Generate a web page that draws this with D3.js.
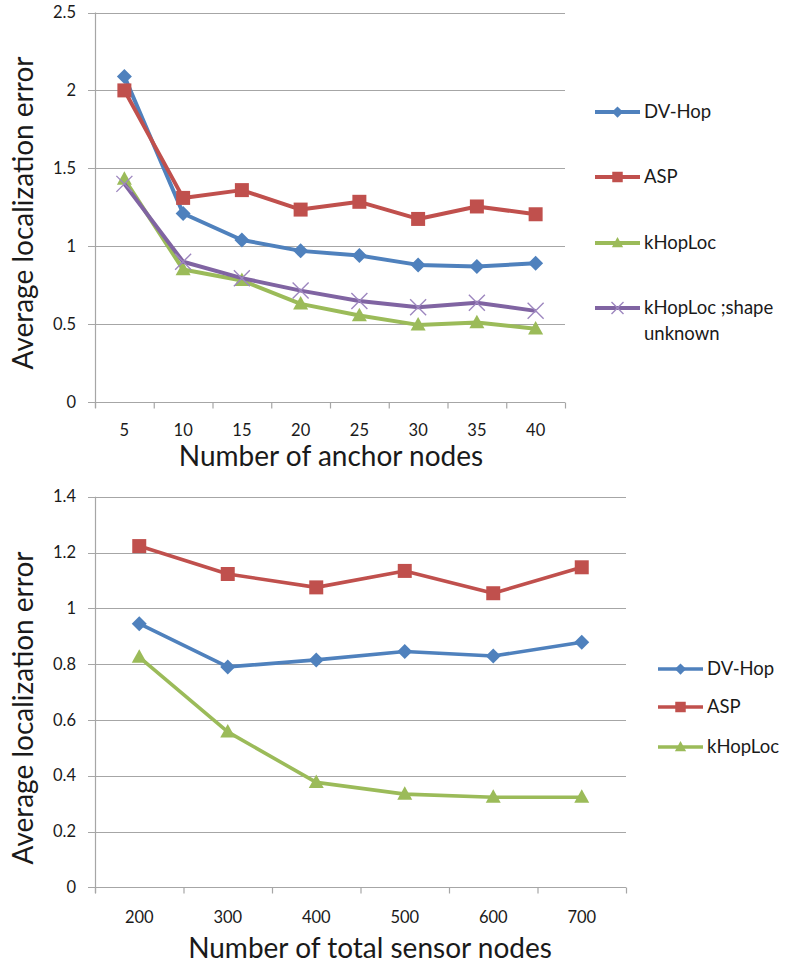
<!DOCTYPE html>
<html>
<head>
<meta charset="utf-8">
<script src="https://cdn.jsdelivr.net/npm/d3@7/dist/d3.min.js"></script>
<style>
  html, body { margin: 0; padding: 0; background: #fff; }
  svg { display: block; }
  text { font-family: Lato, "Open Sans", sans-serif; fill: #1a1a1a; }
</style>
</head>
<body>
<svg id="chart" width="794" height="967"></svg>
<script>
// Top panel: error versus number of anchor nodes
const anchorCounts = ["5", "10", "15", "20", "25", "30", "35", "40"];
const anchorDvHop  = [2.09, 1.21, 1.04, 0.97, 0.94, 0.88, 0.87, 0.89];
const anchorAsp    = [2.00, 1.31, 1.36, 1.235, 1.285, 1.175, 1.255, 1.205];
const anchorKHop   = [1.43, 0.85, 0.78, 0.63, 0.555, 0.495, 0.51, 0.47];
const anchorKHopUnknown = [1.40, 0.90, 0.795, 0.715, 0.648, 0.608, 0.637, 0.585];
const anchorYTicks = [0, 0.5, 1, 1.5, 2, 2.5];

// Bottom panel: error versus total number of sensor nodes
const sensorCounts = ["200", "300", "400", "500", "600", "700"];
const sensorDvHop  = [0.945, 0.79, 0.815, 0.845, 0.829, 0.878];
const sensorAsp    = [1.223, 1.123, 1.075, 1.134, 1.054, 1.147];
const sensorKHop   = [0.825, 0.557, 0.376, 0.334, 0.323, 0.323];
const sensorYTicks = [0, 0.2, 0.4, 0.6, 0.8, 1, 1.2, 1.4];

const COLORS = { dv: "#4F81BD", asp: "#C0504D", khop: "#9BBB59", unk: "#8064A2" };

const svg = d3.select("#chart");

function markerPath(type, size) {
  const s = size / 2;
  if (type === "diamond") return `M0,${-s}L${s},0L0,${s}L${-s},0Z`;
  if (type === "square") return `M${-s},${-s}H${s}V${s}H${-s}Z`;
  if (type === "triangle") return `M0,${-s * 1.05}L${s},${s * 0.75}L${-s},${s * 0.75}Z`;
  if (type === "cross") return `M${-s},${-s}L${s},${s}M${s},${-s}L${-s},${s}`;
  return "";
}

function drawMarker(g, type, color, size) {
  const p = g.append("path").attr("d", markerPath(type, size));
  if (type === "cross") {
    p.attr("fill", "none").attr("stroke", "#9d86bf").attr("stroke-width", 1.4);
  } else {
    p.attr("fill", color).attr("stroke", "none");
  }
  return p;
}

function panel(cfg) {
  const g = svg.append("g");
  const x = d3.scaleBand().domain(cfg.categories).range([cfg.left, cfg.right]).padding(0);
  const xEdge = d3.scaleLinear().domain([0, cfg.categories.length]).range([cfg.left, cfg.right]);
  const y = d3.scaleLinear().domain([0, cfg.yMax]).range([cfg.bottom, cfg.top]);

  // value labels on the left
  const yAxis = d3.axisLeft(y).tickValues(cfg.yTicks).tickSize(0).tickPadding(19)
    .tickFormat(d => String(+d.toFixed(2)));
  const yg = g.append("g").attr("transform", `translate(${cfg.left},0)`).call(yAxis);
  yg.select(".domain").remove();
  yg.selectAll("text").style("font-size", cfg.tickFont + "px").attr("fill", "#1a1a1a");
  // horizontal gridlines with outward ticks
  g.append("g").selectAll("line").data(cfg.yTicks).join("line")
    .attr("x1", cfg.left - 7).attr("x2", cfg.right)
    .attr("y1", d => Math.round(y(d)) + 0.5).attr("y2", d => Math.round(y(d)) + 0.5)
    .attr("stroke", "#a6a6a6").attr("stroke-width", 1.2);
  // vertical axis line
  g.append("line").attr("x1", cfg.left + 0.5).attr("x2", cfg.left + 0.5)
    .attr("y1", cfg.top).attr("y2", cfg.bottom + 6)
    .attr("stroke", "#a6a6a6").attr("stroke-width", 1.2);

  // category-boundary ticks
  const xTickAxis = d3.axisBottom(xEdge).tickValues(d3.range(cfg.categories.length + 1))
    .tickSize(6).tickFormat("");
  const xt = g.append("g").attr("transform", `translate(0,${Math.round(cfg.bottom) + 0.5})`).call(xTickAxis);
  xt.select(".domain").remove();
  xt.selectAll("line").attr("stroke", "#a6a6a6").attr("stroke-width", 1.2);

  // category labels
  const xAxis = d3.axisBottom(x).tickSize(0).tickPadding(cfg.xLabelPad);
  const xg = g.append("g").attr("transform", `translate(0,${cfg.bottom})`).call(xAxis);
  xg.select(".domain").remove();
  xg.selectAll("text").style("font-size", cfg.tickFont + "px").attr("fill", "#1a1a1a");

  // axis titles
  g.append("text").attr("x", cfg.xTitleX).attr("y", cfg.xTitleY)
    .attr("text-anchor", "middle").style("font-size", cfg.titleFont + "px")
    .text(cfg.xTitle);
  g.append("text").attr("transform", `translate(${cfg.yTitleX},${cfg.yTitleY}) rotate(-90)`)
    .attr("text-anchor", "middle").style("font-size", cfg.titleFont + "px")
    .text("Average localization error");

  // series
  const line = d3.line().x((d, i) => x(cfg.categories[i]) + x.bandwidth() / 2).y(d => y(d));
  cfg.series.forEach(s => {
    g.append("path").datum(s.values).attr("d", line)
      .attr("fill", "none").attr("stroke", s.color).attr("stroke-width", cfg.lineWidth)
      .attr("stroke-linejoin", "round");
    s.values.forEach((v, i) => {
      const m = g.append("g")
        .attr("transform", `translate(${x(cfg.categories[i]) + x.bandwidth() / 2},${y(v)})`);
      drawMarker(m, s.marker, s.color, s.size);
    });
  });

  // legend
  cfg.series.forEach((s, i) => {
    const ly = cfg.legendY[i];
    const lg = g.append("g").attr("transform", `translate(${cfg.legendX},${ly})`);
    lg.append("line").attr("x1", 0).attr("x2", 45).attr("y1", 0).attr("y2", 0)
      .attr("stroke", s.color).attr("stroke-width", cfg.lineWidth);
    const m = lg.append("g").attr("transform", "translate(22.5,0)");
    drawMarker(m, s.marker, s.color, s.size * 0.75);
    const t = lg.append("text").attr("x", 49).attr("y", 0)
      .style("font-size", cfg.legendFont + "px");
    s.label.forEach((ln, k) => {
      t.append("tspan").attr("x", 49).attr("dy", k === 0 ? "0.35em" : "1.4em").text(ln);
    });
  });
}

panel({
  categories: anchorCounts, yMax: 2.5, yTicks: anchorYTicks,
  left: 95, right: 565, top: 12.5, bottom: 402,
  xTitle: "Number of anchor nodes", xTitleX: 331, xTitleY: 466,
  yTitleX: 33, yTitleY: 213,
  tickFont: 16.5, titleFont: 28, legendFont: 18.5, xLabelPad: 22, lineWidth: 4,
  legendX: 595, legendY: [112, 177, 243, 308],
  series: [
    { label: ["DV-Hop"], values: anchorDvHop, color: COLORS.dv, marker: "diamond", size: 15 },
    { label: ["ASP"], values: anchorAsp, color: COLORS.asp, marker: "square", size: 14 },
    { label: ["kHopLoc"], values: anchorKHop, color: COLORS.khop, marker: "triangle", size: 15 },
    { label: ["kHopLoc ;shape", "unknown"], values: anchorKHopUnknown, color: COLORS.unk, marker: "cross", size: 16 }
  ]
});

panel({
  categories: sensorCounts, yMax: 1.4, yTicks: sensorYTicks,
  left: 95, right: 626, top: 496.7, bottom: 887.3,
  xTitle: "Number of total sensor nodes", xTitleX: 370, xTitleY: 958,
  yTitleX: 33, yTitleY: 708,
  tickFont: 16.5, titleFont: 28, legendFont: 18.5, xLabelPad: 24, lineWidth: 3.6,
  legendX: 658, legendY: [669, 707, 747],
  series: [
    { label: ["DV-Hop"], values: sensorDvHop, color: COLORS.dv, marker: "diamond", size: 15 },
    { label: ["ASP"], values: sensorAsp, color: COLORS.asp, marker: "square", size: 14 },
    { label: ["kHopLoc"], values: sensorKHop, color: COLORS.khop, marker: "triangle", size: 15 }
  ]
});
</script>
</body>
</html>
